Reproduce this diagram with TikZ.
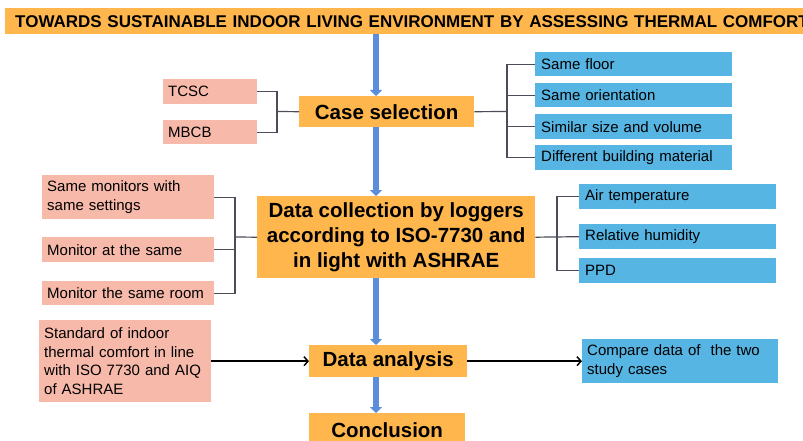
\documentclass[tikz,border=0pt]{standalone}
\usepackage{fontspec}
\setmainfont{Liberation Sans}
\usetikzlibrary{arrows.meta}
\definecolor{orangebox}{RGB}{255,183,77}
\definecolor{pinkbox}{RGB}{247,185,170}
\definecolor{bluebox}{RGB}{87,181,227}
\definecolor{arrowblue}{RGB}{91,141,218}
\definecolor{linegray}{RGB}{75,78,88}
\tikzset{
  mainbox/.style={fill=orangebox, draw=none, inner sep=0pt, font=\bfseries\fontsize{20.5}{25}\selectfont, align=center},
  pinkitem/.style={fill=pinkbox, draw=none, inner xsep=5pt, inner ysep=0pt, font=\fontsize{15}{18.5}\selectfont, align=left, anchor=north west},
  blueitem/.style={fill=bluebox, draw=none, inner xsep=6pt, inner ysep=0pt, font=\fontsize{15}{18.5}\selectfont, align=left, anchor=north west},
  flowarrow/.style={draw=arrowblue, line width=6pt, -{Triangle[width=12pt,length=6pt]}},
  bracket/.style={draw=linegray, line width=1.2pt},
  sidearrow/.style={draw=black, line width=1.5pt, -{Straight Barb[length=4pt,width=9pt]}}
}
\begin{document}
\begin{tikzpicture}[x=1pt,y=-1pt]
\useasboundingbox (0,0) rectangle (803,441);
\fill[white] (0,0) rectangle (803,441);

% title
\node[fill=orangebox, inner sep=0pt, anchor=north west, minimum width=820pt, minimum height=26pt, text width=810pt, align=left, font=\bfseries\fontsize{17}{20}\selectfont] (title) at (5,8) {\hspace*{5pt}TOWARDS SUSTAINABLE INDOOR LIVING ENVIRONMENT BY ASSESSING THERMAL COMFORT};

% main boxes
\node[mainbox, anchor=north west, minimum width=175pt, minimum height=31pt] (case) at (299,96) {Case selection};
\node[mainbox, anchor=north west, minimum width=278pt, minimum height=82pt] (dc) at (257,196) {Data collection by loggers\\according to ISO-7730 and\\in light with ASHRAE};
\node[mainbox, anchor=north west, minimum width=158pt, minimum height=32pt] (da) at (309,345) {Data analysis};
\node[mainbox, anchor=north west, minimum width=156pt, minimum height=34pt] (conc) at (309,413) {Conclusion};

% case selection inputs
\node[pinkitem, minimum width=94pt, minimum height=25pt, text width=84pt] (tcsc) at (163,79) {TCSC};
\node[pinkitem, minimum width=94pt, minimum height=24pt, text width=84pt] (mbcb) at (163,120) {MBCB};

\node[blueitem, minimum width=197pt, minimum height=24pt, text width=185pt] (f1) at (535,52) {Same floor};
\node[blueitem, minimum width=197pt, minimum height=24pt, text width=185pt] (f2) at (535,83) {Same orientation};
\node[blueitem, minimum width=197pt, minimum height=25pt, text width=185pt] (f3) at (535,114) {Similar size and volume};
\node[blueitem, minimum width=197pt, minimum height=25pt, text width=185pt] (f4) at (535,145) {Different building material};

% data collection inputs
\node[pinkitem, minimum width=172pt, minimum height=44pt, text width=162pt] (m1) at (42,175) {Same monitors with\\same settings};
\node[pinkitem, minimum width=172pt, minimum height=25pt, text width=162pt] (m2) at (42,237) {Monitor at the same};
\node[pinkitem, minimum width=172pt, minimum height=24pt, text width=162pt] (m3) at (42,281) {Monitor the same room};

\node[blueitem, minimum width=197pt, minimum height=25pt, text width=185pt] (p1) at (579,184) {Air temperature};
\node[blueitem, minimum width=197pt, minimum height=25pt, text width=185pt] (p2) at (579,224) {Relative humidity};
\node[blueitem, minimum width=197pt, minimum height=25pt, text width=185pt] (p3) at (579,258) {PPD};

% analysis side boxes
\node[pinkitem, inner xsep=5pt, minimum width=172pt, minimum height=82pt, text width=162pt] (std) at (39,320) {Standard of indoor\\thermal comfort in line\\with ISO 7730 and AIQ\\of ASHRAE};
\node[blueitem, inner xsep=5pt, minimum width=196pt, minimum height=44pt, text width=186pt] (cmp) at (582,339) {Compare data of\ \ the two\\study cases};

% main flow
\coordinate (ax) at (376,0);
\draw[flowarrow] (title.south -| ax) -- (case.north -| ax);
\draw[flowarrow] (case.south -| ax) -- (dc.north -| ax);
\draw[flowarrow] (dc.south -| ax) -- (da.north -| ax);
\draw[flowarrow] (da.south -| ax) -- (conc.north -| ax);

% brackets around case selection
\coordinate (cl) at (277,111.5);
\draw[bracket] (tcsc.east) -| (cl);
\draw[bracket] (mbcb.east) -| (cl);
\draw[bracket] (cl) -- (case.west);
\coordinate (cr) at (507,111.5);
\draw[bracket] (case.east) -- (cr);
\draw[bracket] (f1.west) -| (cr);
\draw[bracket] (f2.west) -| (cr);
\draw[bracket] (f3.west) -| (cr);
\draw[bracket] (f4.west) -| (cr);

% brackets around data collection
\coordinate (dl) at (235,237);
\draw[bracket] (m1.east) -| (dl);
\draw[bracket] (m2.east) -| (dl);
\draw[bracket] (m3.east) -| (dl);
\draw[bracket] (dl) -- (dc.west);
\coordinate (dr) at (557,236.5);
\draw[bracket] (dc.east) -- (p2.west);
\draw[bracket] (p1.west) -| (dr);
\draw[bracket] (p3.west) -| (dr);

% analysis arrows
\draw[sidearrow] (std.east) -- (da.west);
\draw[sidearrow] (da.east) -- (cmp.west);
\end{tikzpicture}
\end{document}
